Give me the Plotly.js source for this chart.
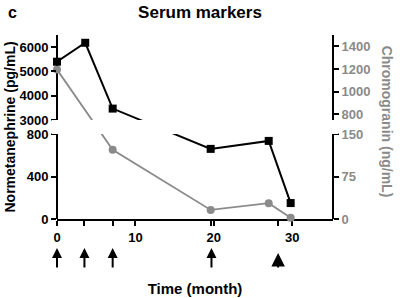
<!DOCTYPE html>
<html>
<head>
<meta charset="utf-8">
<script src="https://cdn.plot.ly/plotly-3.0.1.min.js"></script>
<style>html,body{margin:0;padding:0;background:#fff;}#chart{width:400px;height:298px;}</style>
</head>
<body>
<div id="chart"></div>
<script>
// ---- data ----
const normMonths = [0, 3.6, 7.1, 19.6, 27.0, 29.8];
const normetanephrine = [5400, 6180, 3470, 660, 735, 150];      // pg/mL
const chromoMonths = [0, 7.1, 19.6, 27.0, 29.8];
const chromogranin = [1195, 122, 16, 28, 2];                     // ng/mL
const treatmentMonths = [0, 3.5, 7.1, 19.7, 28.2];
const treatmentLarge = [false, false, false, false, true];
const xTickVals = [0, 10, 20, 30];
const leftTicks = [0, 400, 800, 3000, 4000, 5000, 6000];
const rightTicks = [0, 75, 150, 800, 1000, 1200, 1400];

// ---- broken-axis scale (value -> display units) ----
const leftSegs = [{lo: 0, hi: 800, d0: 0, d1: 85}, {lo: 3000, hi: 6500, d0: 99, d1: 184}];
const rightSegs = [{lo: 0, hi: 150, d0: 0, d1: 85}, {lo: 750, hi: 1500, d0: 99, d1: 184}];
function toDisp(v, segs) {
  const s = v <= segs[0].hi ? segs[0] : segs[1];
  return s.d0 + (v - s.lo) / (s.hi - s.lo) * (s.d1 - s.d0);
}
const YMAX = 184;
const GRAY = '#8a8a8a';
const FONT = 'Liberation Sans, Arial, sans-serif';

const traces = [
  {
    x: chromoMonths, y: chromogranin.map(v => toDisp(v, rightSegs)),
    type: 'scatter', mode: 'lines+markers', yaxis: 'y',
    line: {color: GRAY, width: 1.8},
    marker: {symbol: 'circle', size: 8, color: GRAY},
    cliponaxis: false, hoverinfo: 'skip'
  },
  {
    x: normMonths, y: normetanephrine.map(v => toDisp(v, leftSegs)),
    type: 'scatter', mode: 'lines+markers', yaxis: 'y',
    line: {color: '#000', width: 2},
    marker: {symbol: 'square', size: 8, color: '#000'},
    cliponaxis: false, hoverinfo: 'skip'
  },
  {
    x: [0], y: [0], yaxis: 'y2', type: 'scatter', mode: 'markers',
    marker: {opacity: 0}, hoverinfo: 'skip', showlegend: false
  }
];

const shapes = [];
// hide lines crossing the break
shapes.push({type: 'rect', xref: 'paper', yref: 'y', x0: -0.02, x1: 1.02,
  y0: leftSegs[0].d1, y1: leftSegs[1].d0, fillcolor: '#fff', line: {width: 0}, layer: 'above'});
// broken y-axis lines
[0, 1].forEach(xp => {
  const segs = xp === 0 ? leftSegs : rightSegs;
  segs.forEach(s => shapes.push({type: 'line', xref: 'paper', yref: 'y', x0: xp, x1: xp,
    y0: s.d0, y1: s.d1, line: {color: '#000', width: 2}, layer: 'below'}));
});

const annotations = [
  {text: '<b>c</b>', xref: 'paper', yref: 'paper', x: -0.16, y: 1.125, xanchor: 'center', yanchor: 'middle',
    showarrow: false, font: {family: FONT, size: 16, color: '#000'}},
  {text: '<b>Normetanephrine (pg/mL)</b>', xref: 'paper', yref: 'paper', x: -0.172, y: 0.5,
    xanchor: 'center', yanchor: 'middle', textangle: -90, showarrow: false,
    font: {family: FONT, size: 14, color: '#000'}},
  {text: '<b>Chromogranin (ng/mL)</b>', xref: 'paper', yref: 'paper', x: 1.195, y: 0.53,
    xanchor: 'center', yanchor: 'middle', textangle: 90, showarrow: false,
    font: {family: FONT, size: 14, color: GRAY}}
];
treatmentMonths.forEach((m, i) => {
  const big = treatmentLarge[i];
  annotations.push({
    xref: 'x', yref: 'paper', x: m, y: big ? -0.185 : -0.158, text: '',
    showarrow: true, ax: 0, ay: big ? 16 : 21, arrowhead: 2,
    arrowwidth: 2, arrowsize: big ? 1.35 : 1, arrowcolor: '#000'
  });
});

const layout = {
  width: 400, height: 298,
  margin: {l: 57, r: 67, t: 35, b: 79},
  paper_bgcolor: '#fff', plot_bgcolor: '#fff',
  showlegend: false,
  title: {text: '<b>Serum markers</b>', x: 0.5, xref: 'container', xanchor: 'center',
    y: 0.96, yref: 'container', yanchor: 'middle',
    font: {family: FONT, size: 17, color: '#000'}},
  xaxis: {
    range: [0, 35.2], showgrid: false, zeroline: false,
    showline: true, linecolor: '#000', linewidth: 2, layer: 'below traces',
    tickmode: 'array', tickvals: xTickVals, ticktext: xTickVals.map(String),
    ticks: 'outside', ticklen: 5, tickwidth: 2, tickcolor: '#000',
    minor: {tickmode: 'array', tickvals: treatmentMonths, ticks: 'outside', ticklen: 5, tickwidth: 2, tickcolor: '#000'},
    tickfont: {family: FONT, size: 13, color: '#000', weight: 'bold'},
    title: {text: '<b>Time (month)</b>', font: {family: FONT, size: 15, color: '#000'}, standoff: 40},
    fixedrange: true
  },
  yaxis: {
    range: [0, YMAX], showgrid: false, zeroline: false, showline: false,
    tickmode: 'array', tickvals: leftTicks.map(v => toDisp(v, leftSegs)), ticktext: leftTicks.map(String),
    ticks: 'outside', ticklen: 5, tickwidth: 2, tickcolor: '#000',
    tickfont: {family: FONT, size: 13, color: '#000', weight: 'bold'},
    fixedrange: true
  },
  yaxis2: {
    range: [0, YMAX], overlaying: 'y', side: 'right', showgrid: false, zeroline: false, showline: false,
    tickmode: 'array', tickvals: rightTicks.map(v => toDisp(v, rightSegs)), ticktext: rightTicks.map(String),
    ticks: 'outside', ticklen: 5, tickwidth: 2, tickcolor: '#000',
    tickfont: {family: FONT, size: 13, color: GRAY, weight: 'bold'},
    fixedrange: true
  },
  shapes: shapes,
  annotations: annotations
};

Plotly.newPlot('chart', traces, layout, {staticPlot: true, displayModeBar: false});
</script>
</body>
</html>
